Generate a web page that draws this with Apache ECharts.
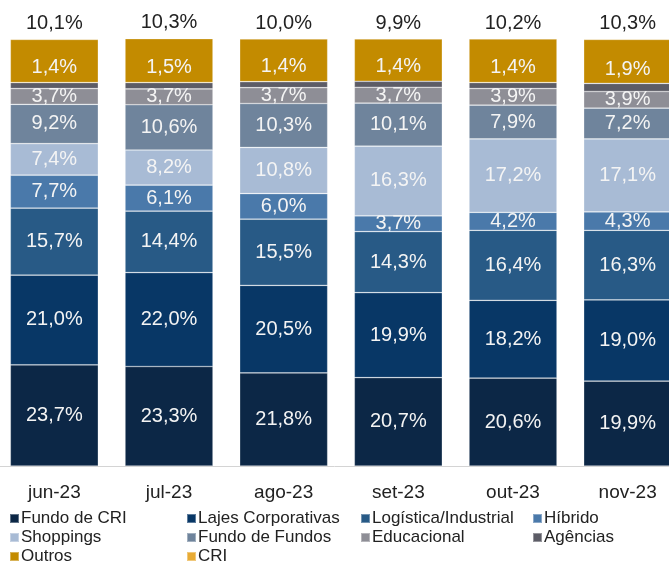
<!DOCTYPE html>
<html>
<head>
<meta charset="utf-8">
<script src="https://cdn.jsdelivr.net/npm/echarts@6/dist/echarts.min.js"></script>
<style>
  html, body { margin: 0; padding: 0; background: #fff; }
  #main { width: 669px; height: 565px; }
</style>
</head>
<body>
<div id="main"></div>
<script>
var meses = ['jun-23', 'jul-23', 'ago-23', 'set-23', 'out-23', 'nov-23'];

var fundoCRI     = [23.7, 23.3, 21.8, 20.7, 20.6, 19.9];
var lajes        = [21.0, 22.0, 20.5, 19.9, 18.2, 19.0];
var logistica    = [15.7, 14.4, 15.5, 14.3, 16.4, 16.3];
var hibrido      = [7.7, 6.1, 6.0, 3.7, 4.2, 4.3];
var shoppings    = [7.4, 8.2, 10.8, 16.3, 17.2, 17.1];
var fundoFundos  = [9.2, 10.6, 10.3, 10.1, 7.9, 7.2];
var educacional  = [3.7, 3.7, 3.7, 3.7, 3.9, 3.9];
var agencias     = [1.4, 1.5, 1.4, 1.4, 1.4, 1.9];
var outros       = [10.1, 10.3, 10.0, 9.9, 10.2, 10.3];
var cri          = [];

var fonte = 'Liberation Sans';

function pct(p) {
  return p.value.toFixed(1).replace('.', ',') + '%';
}

function serie(nome, dados, cor, label) {
  return {
    name: nome,
    type: 'bar',
    stack: 'total',
    barWidth: 88,
    data: dados,
    itemStyle: { color: cor, borderColor: 'rgba(255,255,255,0.35)', borderWidth: 0.7 },
    label: Object.assign({
      show: true,
      position: 'inside',
      color: '#f4f4f4',
      fontSize: 20,
      fontFamily: fonte,
      formatter: pct
    }, label || {})
  };
}

var myChart = echarts.init(document.getElementById('main'));

function legenda(left, nomes) {
  return {
    orient: 'vertical',
    left: left,
    top: 509,
    height: 80,
    itemGap: 0,
    itemWidth: 9,
    itemHeight: 9,
    icon: 'rect',
    padding: 0,
    data: nomes,
    textStyle: { fontSize: 17, fontFamily: fonte, color: '#222', lineHeight: 19, padding: [0, 0, 0, -3] }
  };
}

var option = {
  animation: false,
  grid: { left: -3, width: 688, top: 39, bottom: 99, outerBoundsMode: 'none' },
  legend: [
    legenda(9, ['Fundo de CRI', 'Shoppings', 'Outros']),
    legenda(186, ['Lajes Corporativas', 'Fundo de Fundos', 'CRI']),
    legenda(360, ['Logística/Industrial', 'Educacional']),
    legenda(532, ['Híbrido', 'Agências'])
  ],
  xAxis: {
    type: 'category',
    data: meses,
    axisTick: { show: false },
    axisLine: { lineStyle: { color: '#d4d4d4', width: 1 } },
    axisLabel: { fontSize: 19, fontFamily: fonte, color: '#222', margin: 17 }
  },
  yAxis: {
    type: 'value',
    min: 0,
    max: 100,
    show: false,
    splitLine: { show: false }
  },
  series: [
    serie('Fundo de CRI', fundoCRI, '#0c2746'),
    serie('Lajes Corporativas', lajes, '#083766'),
    serie('Logística/Industrial', logistica, '#285a86'),
    serie('Híbrido', hibrido, '#4a79aa'),
    serie('Shoppings', shoppings, '#a8bbd5'),
    serie('Fundo de Fundos', fundoFundos, '#6f849c'),
    serie('Educacional', educacional, '#8e8e96'),
    serie('Agências', agencias, '#5c5c66', { offset: [0, -18] }),
    serie('Outros', outros, '#c38b00', { position: 'top', distance: 6, color: '#222' }),
    serie('CRI', cri, '#e8ab35')
  ]
};

myChart.setOption(option);
</script>
</body>
</html>
